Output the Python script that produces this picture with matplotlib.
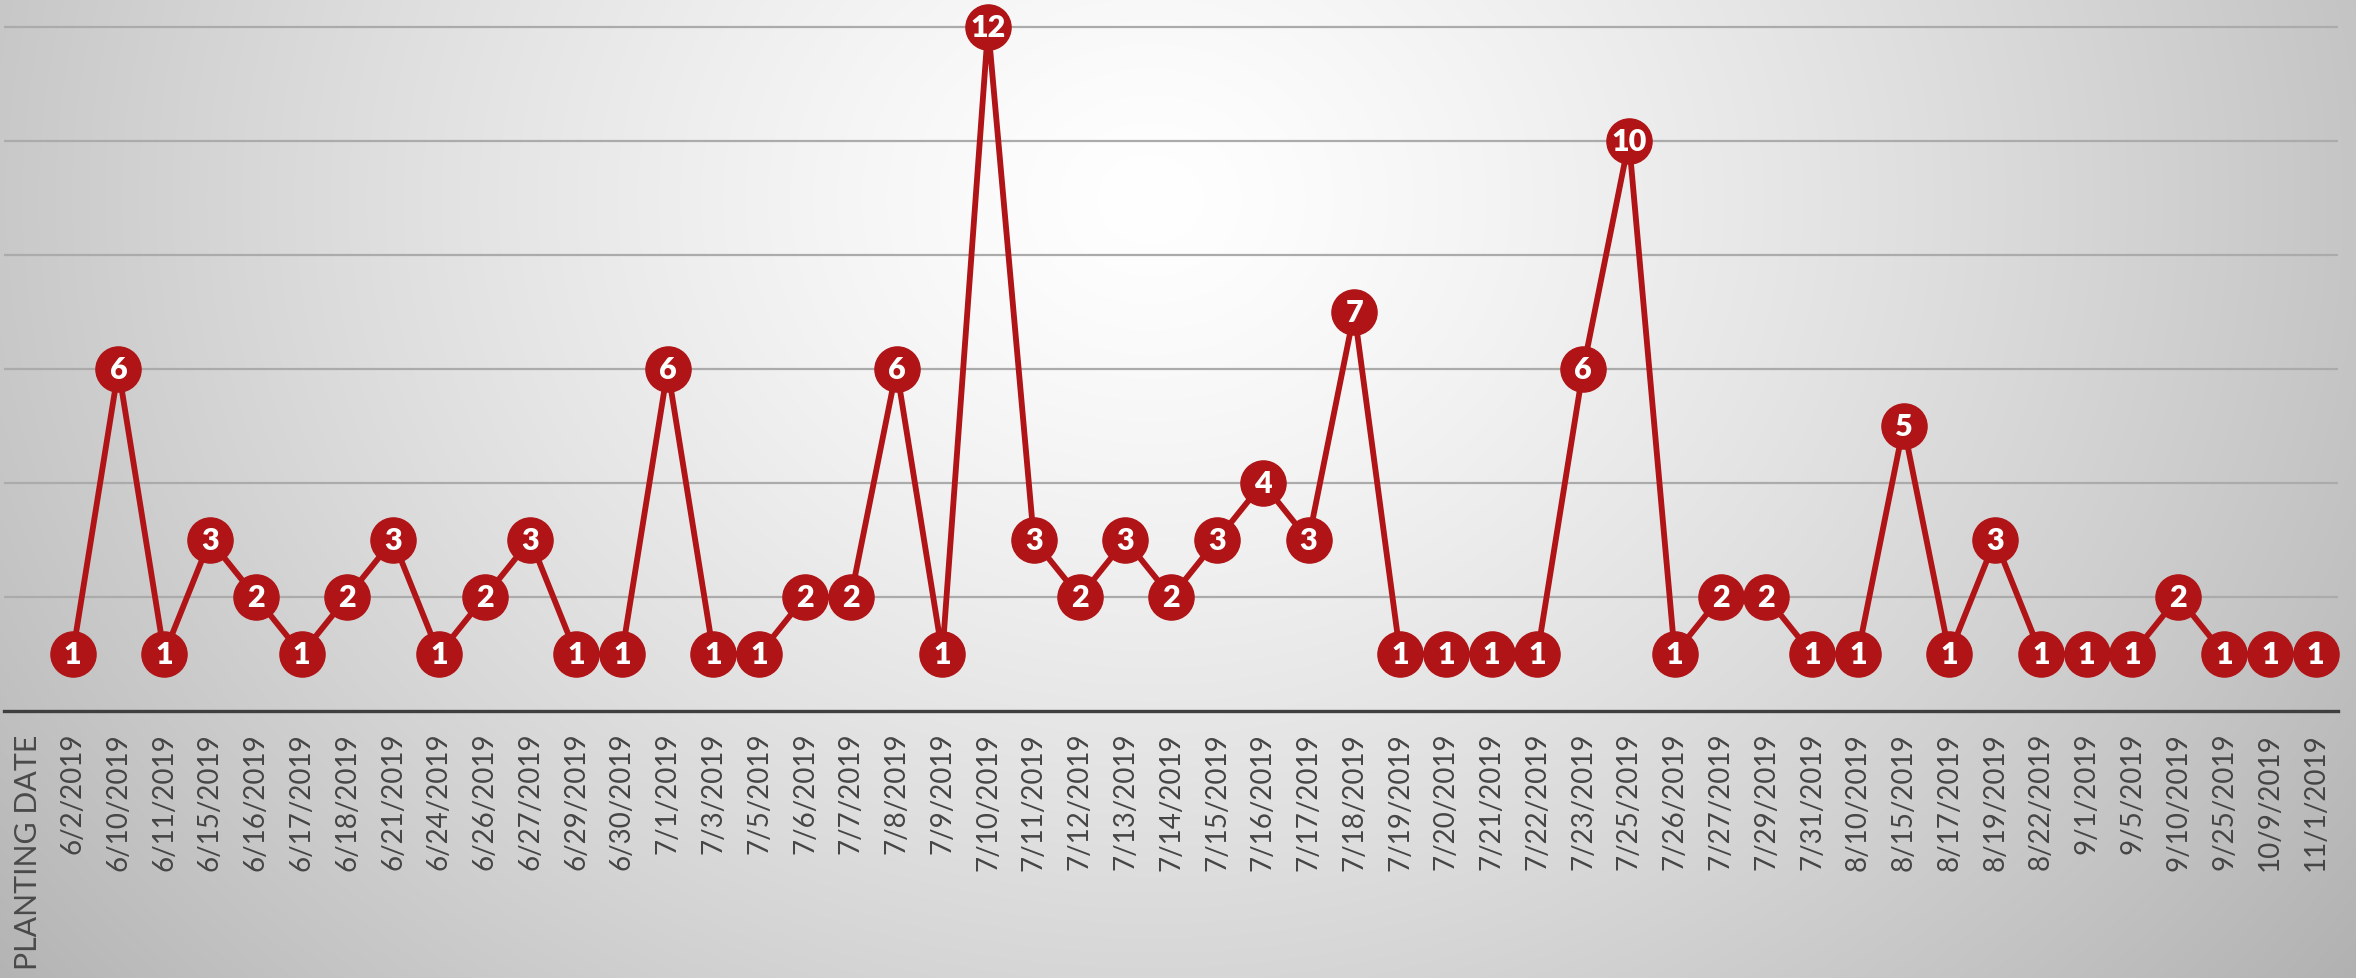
import numpy as np
import matplotlib
matplotlib.use("Agg")
import matplotlib.pyplot as plt

dates = ["6/2/2019", "6/10/2019", "6/11/2019", "6/15/2019", "6/16/2019", "6/17/2019",
         "6/18/2019", "6/21/2019", "6/24/2019", "6/26/2019", "6/27/2019", "6/29/2019",
         "6/30/2019", "7/1/2019", "7/3/2019", "7/5/2019", "7/6/2019", "7/7/2019",
         "7/8/2019", "7/9/2019", "7/10/2019", "7/11/2019", "7/12/2019", "7/13/2019",
         "7/14/2019", "7/15/2019", "7/16/2019", "7/17/2019", "7/18/2019", "7/19/2019",
         "7/20/2019", "7/21/2019", "7/22/2019", "7/23/2019", "7/25/2019", "7/26/2019",
         "7/27/2019", "7/29/2019", "7/31/2019", "8/10/2019", "8/15/2019", "8/17/2019",
         "8/19/2019", "8/22/2019", "9/1/2019", "9/5/2019", "9/10/2019", "9/25/2019",
         "10/9/2019", "11/1/2019"]
counts = [1, 6, 1, 3, 2, 1, 2, 3, 1, 2, 3, 1, 1, 6, 1, 1, 2, 2, 6, 1, 12, 3, 2, 3, 2,
          3, 4, 3, 7, 1, 1, 1, 1, 6, 10, 1, 2, 2, 1, 1, 5, 1, 3, 1, 1, 1, 2, 1, 1, 1]
grid_levels = [2, 4, 6, 8, 10, 12]
axis_title = "PLANTING DATE"

W, H = 2356, 979
fig = plt.figure(figsize=(W / 100, H / 100), dpi=100)

# radial gradient background
bg = fig.add_axes([0, 0, 1, 1])
yy, xx = np.mgrid[0:H, 0:W]
d = np.sqrt(((xx - 1150) / 1300.0) ** 2 + ((yy - 200) / 1100.0) ** 2)
g = 1 - 0.25 * np.clip(d, 0, 1.4) ** 1.3
img = np.dstack([g, g, g])
bg.imshow(img, extent=[0, 1, 0, 1], aspect="auto", interpolation="bilinear")
bg.set_axis_off()
bg.set_zorder(-5)

left_px, right_px, zero_px = 4, 2338, 712
ax = fig.add_axes([left_px / W, (H - zero_px) / H, (right_px - left_px) / W, zero_px / H])
ax.patch.set_alpha(0)

x = np.arange(len(dates))
red = "#B01416"
ax.plot(x, counts, color=red, lw=4.2, marker="o", ms=32.5, mfc=red, mec=red,
        clip_on=False, zorder=3)
for xi, v in zip(x, counts):
    ax.text(xi, v, str(v), ha="center", va="center", color="white",
            fontsize=22, fontweight="heavy", family="Lato", zorder=4)

ax.set_xlim(-1.5, 49.49)
ax.set_ylim(0, zero_px / 57.0)
ax.set_yticks(grid_levels)
ax.set_yticklabels([])
ax.yaxis.grid(True, color="#ababab", lw=1.6)
ax.set_axisbelow(True)
ax.tick_params(axis="y", length=0)
ax.set_xticks(x)
ax.set_xticklabels(dates, rotation=90, fontsize=20, color="#454545", family="Lato")
ax.tick_params(axis="x", length=0, pad=15)
for s in ["top", "right", "left"]:
    ax.spines[s].set_visible(False)
ax.spines["bottom"].set_color("#3f3f3f")
ax.spines["bottom"].set_linewidth(2.4)

fig.text(28 / W, (H - 735) / H, axis_title, rotation=90, ha="center", va="top",
         fontsize=21.8, color="#4a4a4a", family="Lato")

fig.savefig("out.png", dpi=100)
